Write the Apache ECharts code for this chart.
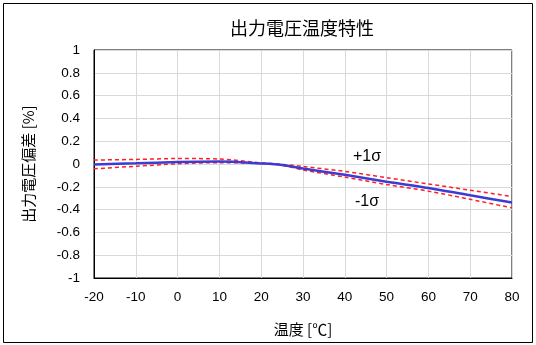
<!DOCTYPE html>
<html><head><meta charset="utf-8">
<script src="https://cdn.jsdelivr.net/npm/echarts@6/dist/echarts.min.js"></script>
<style>html,body{margin:0;padding:0;background:#fff}#c{width:536px;height:345px}</style>
</head><body><div id="c"></div>
<script>
const temps = [-20, -10, 0, 10, 20, 25, 30, 40, 50, 60, 70, 80];
const meanDev = [-0.004, 0.006, 0.017, 0.021, 0.005, -0.008, -0.04, -0.095, -0.155, -0.21, -0.275, -0.337];
const plusSigma = [0.035, 0.04, 0.048, 0.044, 0.01, -0.003, -0.022, -0.065, -0.12, -0.175, -0.23, -0.285];
const minusSigma = [-0.042, -0.02, 0.002, 0.012, 0.004, -0.012, -0.052, -0.115, -0.18, -0.238, -0.31, -0.385];
const title = '出力電圧温度特性';
const xName = '温度 [℃]';
const yName = '出力電圧偏差 [%]';
const plusLabel = '+1σ';
const minusLabel = '-1σ';

const zip = (a) => temps.map((t, i) => [t, a[i]]);
const font = 'Arial, "Liberation Sans", sans-serif';
const chart = echarts.init(document.getElementById('c'));
chart.setOption({
  animation: false,
  backgroundColor: '#fff',
  title: { text: title, left: 297, top: 14, textAlign: 'center',
    textStyle: { fontSize: 18, fontWeight: 'normal', color: '#000', fontFamily: '"Noto Sans CJK JP", sans-serif' } },
  grid: { left: 94, right: 24, top: 50, bottom: 67, show: true, borderColor: '#000', borderWidth: 1, backgroundColor: 'transparent' },
  xAxis: {
    type: 'value', min: -20, max: 80, interval: 10,
    name: xName, nameLocation: 'middle', nameGap: 44,
    nameTextStyle: { fontSize: 15, color: '#000', fontFamily: '"Noto Sans CJK JP", sans-serif' },
    axisLine: { show: true, onZero: false, lineStyle: { color: '#000', width: 1 } },
    axisTick: { show: false },
    axisLabel: { fontSize: 13.5, color: '#000', margin: 12, fontFamily: font },
    splitLine: { show: true, lineStyle: { color: '#d9d9d9', width: 1 } }
  },
  yAxis: {
    type: 'value', min: -1, max: 1, interval: 0.2,
    name: yName, nameLocation: 'middle', nameGap: 58, nameRotate: 90,
    nameTextStyle: { fontSize: 15, color: '#000', fontFamily: '"Noto Sans CJK JP", sans-serif' },
    axisLine: { show: true, onZero: false, lineStyle: { color: '#000', width: 1 } },
    axisTick: { show: false },
    axisLabel: { fontSize: 13.5, color: '#000', margin: 14, fontFamily: font,
      formatter: v => String(Math.round(v * 10) / 10) },
    splitLine: { show: true, lineStyle: { color: '#d9d9d9', width: 1 } }
  },
  series: [
    { type: 'line', data: zip(plusSigma), smooth: 0.3, symbol: 'none',
      lineStyle: { color: '#ff2020', width: 1.5, type: [4, 3] }, z: 2 },
    { type: 'line', data: zip(minusSigma), smooth: 0.3, symbol: 'none',
      lineStyle: { color: '#ff2020', width: 1.5, type: [4, 3] }, z: 2 },
    { type: 'line', data: zip(meanDev), smooth: 0.3, symbol: 'none',
      lineStyle: { color: '#3b3bd6', width: 2.5 }, z: 3 }
  ],
  graphic: [
    { type: 'rect', shape: { x: 3.5, y: 3.5, width: 529, height: 339 },
      style: { fill: 'none', stroke: '#000', lineWidth: 1 }, z: -1 },
    { type: 'text', x: 367, y: 157, style: { text: plusLabel, font: '16px ' + font, fill: '#000', textAlign: 'center', textVerticalAlign: 'middle' } },
    { type: 'text', x: 367, y: 202, style: { text: minusLabel, font: '16px ' + font, fill: '#000', textAlign: 'center', textVerticalAlign: 'middle' } }
  ]
});
</script></body></html>
